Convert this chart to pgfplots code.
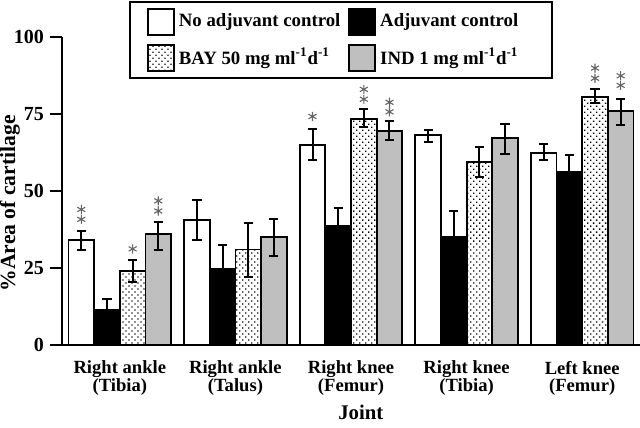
\documentclass[border=0pt]{standalone}
\usepackage{fontspec}
\setmainfont{Liberation Serif}
\usepackage{pgfplots}
\pgfplotsset{compat=1.18}
\usetikzlibrary{patterns.meta}

\tikzset{
  dotfill/.style={pattern={Dots[distance=2.12pt, angle=45, radius=0.45pt]}, pattern color=black},
}
\pgfplotsset{
  bar/.style={ybar, bar width=0.222, bar shift=0pt, draw=black, line width=0.9pt},
  ebar/.style={error bars/.cd, y dir=both, y explicit,
    error bar style={line width=1pt, black},
    error mark options={rotate=90, line width=1pt, black, mark size=2.3pt}},
  ebarup/.style={error bars/.cd, y dir=plus, y explicit,
    error bar style={line width=1pt, black},
    error mark options={rotate=90, line width=1pt, black, mark size=2.3pt}},
  star/.style={only marks, mark=asterisk, mark size=2.3pt, black!60, line width=0.55pt, forget plot},
}

\begin{document}
\begin{tikzpicture}
\begin{axis}[
  scale only axis,
  width=289pt, height=154pt,
  xmin=-0.5, xmax=4.5, ymin=0, ymax=100,
  axis x line=bottom, axis y line=left,
  axis line style={-, line width=1pt},
  clip=false,
  xtick={0,1,2,3,4},
  xticklabels={{Right ankle\\(Tibia)},{Right ankle\\(Talus)},{Right knee\\(Femur)},{Right knee\\(Tibia)},{Left knee\\(Femur)}},
  xtick style={draw=none},
  xticklabel style={align=center, font=\fontsize{9.3}{8.8}\selectfont\bfseries, yshift=1.5pt},
  ytick={0,25,50,75,100},
  ytick style={line width=1pt, black},
  major tick length=6pt, tick align=outside,
  yticklabel style={font=\fontsize{10}{12}\selectfont\bfseries, xshift=0.5pt},
  /pgf/number format/assume math mode=true,
  xlabel={Joint},
  xlabel style={at={(axis description cs:0.517,-0.243)}, anchor=base, font=\fontsize{10.4}{12}\selectfont\bfseries},
  ylabel={\%Area of cartilage},
  ylabel style={at={(axis description cs:-0.09,0.46)}, anchor=center, font=\fontsize{10.8}{13}\selectfont\bfseries},
  legend columns=2,
  legend cell align=left,
  legend style={at={(axis description cs:0.116,1.117)}, anchor=north west,
    draw=black, line width=1pt, fill=white,
    font=\fontsize{9.4}{11}\selectfont\bfseries,
    inner xsep=8.5pt, inner ysep=3pt, row sep=4pt,
    /tikz/every even column/.append style={column sep=2pt}},
  legend image code/.code={\draw[#1, line width=0.9pt] (0pt,-6.5pt) rectangle (13pt,6.5pt);},
]
% No adjuvant control
\addplot[bar, fill=white, ebar] coordinates {
  (-0.333,34.0) += (0,3.0) -= (0,3.0)
  (0.667,40.5)  += (0,6.5) -= (0,6.5)
  (1.667,65.0)  += (0,5.0) -= (0,5.0)
  (2.667,68.2)  += (0,1.7) -= (0,2.2)
  (3.667,62.4)  += (0,2.9) -= (0,2.4)
};
% Adjuvant control
\addplot[bar, fill=black, ebarup] coordinates {
  (-0.111,11.4) += (0,3.6) -= (0,0)
  (0.889,24.8)  += (0,7.7) -= (0,0)
  (1.889,38.7)  += (0,5.8) -= (0,0)
  (2.889,35.2)  += (0,8.3) -= (0,0)
  (3.889,56.2)  += (0,5.5) -= (0,0)
};
% BAY 50
\addplot[bar, dotfill, ebar] coordinates {
  (0.111,24.0) += (0,3.6) -= (0,3.5)
  (1.111,31.0) += (0,8.7) -= (0,9.0)
  (2.111,73.5) += (0,3.1) -= (0,2.6)
  (3.111,59.5) += (0,4.9) -= (0,4.9)
  (4.111,80.4) += (0,2.6) -= (0,1.8)
};
% IND 1
\addplot[bar, fill=black!25, ebar] coordinates {
  (0.333,36.0) += (0,4.0) -= (0,5.0)
  (1.333,35.0) += (0,6.0) -= (0,6.0)
  (2.333,69.6) += (0,3.1) -= (0,3.0)
  (3.333,67.1) += (0,4.7) -= (0,5.1)
  (4.333,76.0) += (0,4.0) -= (0,4.6)
};
\legend{No adjuvant control, Adjuvant control,
  {BAY 50 mg ml\textsuperscript{-1}d\textsuperscript{-1}},
  {IND 1 mg ml\textsuperscript{-1}d\textsuperscript{-1}\rule{6pt}{0pt}}}
% significance stars
\addplot[star] coordinates {
  (-0.333,40.8) (0.111,31.2) (0.333,43.5) (1.667,74.2)
  (2.111,79.8) (2.333,75.7) (4.111,86.6) (4.333,84.3)
};
\addplot[star] coordinates {
  (-0.333,44.0) (0.333,46.8) (2.111,83.0) (2.333,78.8)
  (4.111,89.9) (4.333,87.4)
};
\end{axis}
\pgfresetboundingbox
\useasboundingbox (-31pt,-41pt) rectangle (289pt,172.5pt);
\end{tikzpicture}
\end{document}
